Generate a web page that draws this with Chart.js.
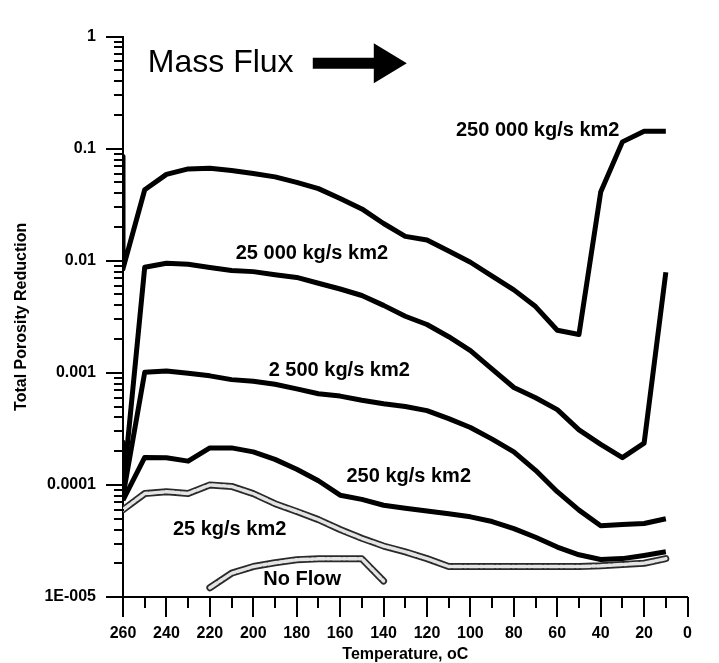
<!DOCTYPE html>
<html>
<head>
<meta charset="utf-8">
<script src="https://cdn.jsdelivr.net/npm/chart.js"></script>
<style>
  body { margin: 0; background: #fff; }
  #wrap { width: 719px; height: 663px; }
</style>
</head>
<body>
<div id="wrap"><canvas id="porosityChart"></canvas></div>
<script>
// temperatures (oC), read every 10 degrees
const temps = [260, 250, 240, 230, 220, 210, 200, 190, 180, 170, 160, 150, 140, 130, 120, 110, 100, 90, 80, 70, 60, 50, 40, 30, 20, 10];
// the two top curves start with a jump at 260 oC
const spikeTemps = [260].concat(temps);

const flux250000 = [0.085, 0.0085, 0.043, 0.059, 0.066, 0.067, 0.064, 0.060, 0.056, 0.050, 0.044, 0.036, 0.029, 0.0215, 0.0165, 0.0153, 0.0122, 0.0097, 0.0073, 0.0055, 0.0039, 0.0024, 0.0022, 0.041, 0.115, 0.143, 0.143];
const flux25000 = [0.00009, 0.00875, 0.0095, 0.0093, 0.0087, 0.0082, 0.0080, 0.0075, 0.0071, 0.0063, 0.0056, 0.0049, 0.0040, 0.0032, 0.0027, 0.0021, 0.00158, 0.00108, 0.00074, 0.0006, 0.00047, 0.00031, 0.00023, 0.000175, 0.000236, 0.0079];
const flux2500 = [0.00024, 0.00008, 0.00101, 0.00104, 0.00099, 0.00094, 0.00087, 0.00084, 0.00079, 0.00072, 0.00065, 0.00062, 0.00057, 0.00053, 0.0005, 0.00046, 0.00039, 0.000325, 0.000256, 0.000197, 0.000135, 0.000087, 0.0000596, 0.0000433, 0.0000443, 0.0000453, 0.0000499];
const flux250 = [0.000073, 0.000176, 0.000175, 0.000163, 0.000214, 0.000214, 0.000197, 0.000169, 0.000138, 0.000109, 0.000081, 0.0000743, 0.0000659, 0.000062, 0.0000585, 0.0000552, 0.0000519, 0.0000471, 0.0000408, 0.0000341, 0.0000279, 0.0000238, 0.0000216, 0.000022, 0.0000235, 0.0000253];
const flux25 = [0.00006, 0.0000837, 0.000087, 0.000084, 0.0001, 0.000097, 0.0000837, 0.000068, 0.000058, 0.000049, 0.00004, 0.0000334, 0.0000285, 0.0000253, 0.000022, 0.0000187, 0.0000187, 0.0000187, 0.0000187, 0.0000187, 0.0000187, 0.0000187, 0.000019, 0.0000195, 0.00002, 0.000022];

const noFlowTemps = [220, 210, 200, 190, 180, 170, 160, 150, 140];
const noFlow = [0.0000121, 0.0000163, 0.0000187, 0.0000202, 0.0000215, 0.0000219, 0.0000219, 0.0000219, 0.0000139];

const yTickValues = [0.00001, 0.0001, 0.001, 0.01, 0.1, 1];
const yTickLabels = ['1E-005', '0.0001', '0.001', '0.01', '0.1', '1'];

// curve labels, placed in data units (temperature, porosity reduction)
const curveLabels = ['250 000 kg/s km2', '25 000 kg/s km2', '2 500 kg/s km2', '250 kg/s km2', '25 kg/s km2', 'No Flow'];
const labelTemps = [69, 173, 160.4, 128.4, 210.9, 177.5];
const labelValues = [0.146, 0.0116, 0.00106, 0.00012, 0.00004, 0.0000142];

const headline = 'Mass Flux';
const headlineAt = [215, 0.578];
const arrowFrom = 172.6;
const arrowTo = 129.3;

const toPoints = (xs, ys) => ys.map((y, i) => ({ x: xs[i], y }));

const solid = (data) => ({
  data,
  borderColor: '#000',
  borderWidth: 5,
  pointRadius: 0,
  tension: 0,
  borderJoinStyle: 'round',
  fill: false,
});

// grey curves: dark outline with a light core
const outlined = (data, inner) => ({
  data,
  borderColor: inner ? '#e4e4e4' : '#2a2a2a',
  borderWidth: inner ? 3.5 : 7,
  borderDash: inner ? [9, 2, 3, 2] : [],
  pointRadius: 0,
  tension: 0,
  borderJoinStyle: 'round',
  borderCapStyle: 'round',
  fill: false,
});

const font = 'Liberation Sans, Arial, sans-serif';

const axisTicks = {
  id: 'axisTicks',
  afterDraw(chart) {
    const { ctx, scales: { x, y }, chartArea } = chart;
    ctx.save();
    ctx.strokeStyle = '#000';
    ctx.lineWidth = 2;
    ctx.beginPath();
    for (let t = 0; t <= 260; t += 10) {
      const px = Math.round(x.getPixelForValue(t));
      ctx.moveTo(px, chartArea.bottom);
      ctx.lineTo(px, chartArea.bottom + (t % 20 === 0 ? 20 : 11));
    }
    for (let d = -5; d <= 0; d++) {
      const py = Math.round(y.getPixelForValue(Math.pow(10, d)));
      ctx.moveTo(chartArea.left - 17, py);
      ctx.lineTo(chartArea.left, py);
      if (d === 0) continue;
      for (let m = 2; m <= 9; m++) {
        const pm = Math.round(y.getPixelForValue(m * Math.pow(10, d)));
        ctx.moveTo(chartArea.left - 9, pm);
        ctx.lineTo(chartArea.left + 1, pm);
      }
    }
    ctx.stroke();
    ctx.restore();
  },
};

const annotations = {
  id: 'annotations',
  afterDatasetsDraw(chart) {
    const { ctx, scales: { x, y } } = chart;
    ctx.save();
    ctx.fillStyle = '#000';
    ctx.textAlign = 'center';
    ctx.textBaseline = 'middle';
    ctx.font = 'bold 20px ' + font;
    curveLabels.forEach((txt, i) => {
      ctx.fillText(txt, x.getPixelForValue(labelTemps[i]), y.getPixelForValue(labelValues[i]));
    });

    ctx.font = '32px ' + font;
    const hy = y.getPixelForValue(headlineAt[1]);
    ctx.fillText(headline, x.getPixelForValue(headlineAt[0]), hy);

    const x0 = x.getPixelForValue(arrowFrom);
    const x1 = x.getPixelForValue(arrowTo);
    const headLen = 33;
    ctx.beginPath();
    ctx.moveTo(x0, hy - 5.5);
    ctx.lineTo(x1 - headLen, hy - 5.5);
    ctx.lineTo(x1 - headLen, hy - 20);
    ctx.lineTo(x1, hy);
    ctx.lineTo(x1 - headLen, hy + 20);
    ctx.lineTo(x1 - headLen, hy + 5.5);
    ctx.lineTo(x0, hy + 5.5);
    ctx.closePath();
    ctx.fill();
    ctx.restore();
  },
};

new Chart(document.getElementById('porosityChart').getContext('2d'), {
  type: 'line',
  data: {
    // earlier datasets are painted on top
    datasets: [
      solid(toPoints(temps, flux250)),
      solid(toPoints(spikeTemps, flux2500)),
      solid(toPoints(temps, flux25000)),
      solid(toPoints(spikeTemps, flux250000)),
      outlined(toPoints(temps, flux25), true),
      outlined(toPoints(temps, flux25), false),
      outlined(toPoints(noFlowTemps, noFlow), true),
      outlined(toPoints(noFlowTemps, noFlow), false),
    ],
  },
  options: {
    responsive: true,
    maintainAspectRatio: false,
    animation: false,
    layout: { padding: { top: 19.5, right: 19, left: 0, bottom: 0 } },
    plugins: {
      legend: { display: false },
      tooltip: { enabled: false },
    },
    scales: {
      x: {
        type: 'linear',
        reverse: true,
        min: 0,
        max: 260,
        afterFit: (s) => { s.height = 66; },
        grid: { display: false, drawTicks: false },
        border: { display: true, color: '#000', width: 2 },
        ticks: {
          stepSize: 20,
          padding: 27,
          color: '#000',
          font: { family: font, size: 16, weight: 'bold' },
          maxRotation: 0,
        },
        title: {
          display: true,
          text: 'Temperature, oC',
          color: '#000',
          font: { family: font, size: 16, weight: 'bold' },
          padding: { top: 0, bottom: -1 },
        },
      },
      y: {
        type: 'logarithmic',
        min: 0.00001,
        max: 1,
        afterFit: (s) => { s.width = 123; },
        afterBuildTicks: (s) => { s.ticks = yTickValues.map((v) => ({ value: v })); },
        grid: { display: false, drawTicks: false },
        border: { display: true, color: '#000', width: 2 },
        ticks: {
          padding: 27,
          color: '#000',
          font: { family: font, size: 16, weight: 'bold' },
          callback: (value) => {
            const i = yTickValues.findIndex((v) => Math.abs(Math.log10(v) - Math.log10(value)) < 1e-6);
            return i >= 0 ? yTickLabels[i] : '';
          },
        },
        title: {
          display: true,
          text: 'Total Porosity Reduction',
          color: '#000',
          font: { family: font, size: 16, weight: 'bold' },
          padding: { top: 12, bottom: 0 },
        },
      },
    },
  },
  plugins: [axisTicks, annotations],
});
</script>
</body>
</html>
